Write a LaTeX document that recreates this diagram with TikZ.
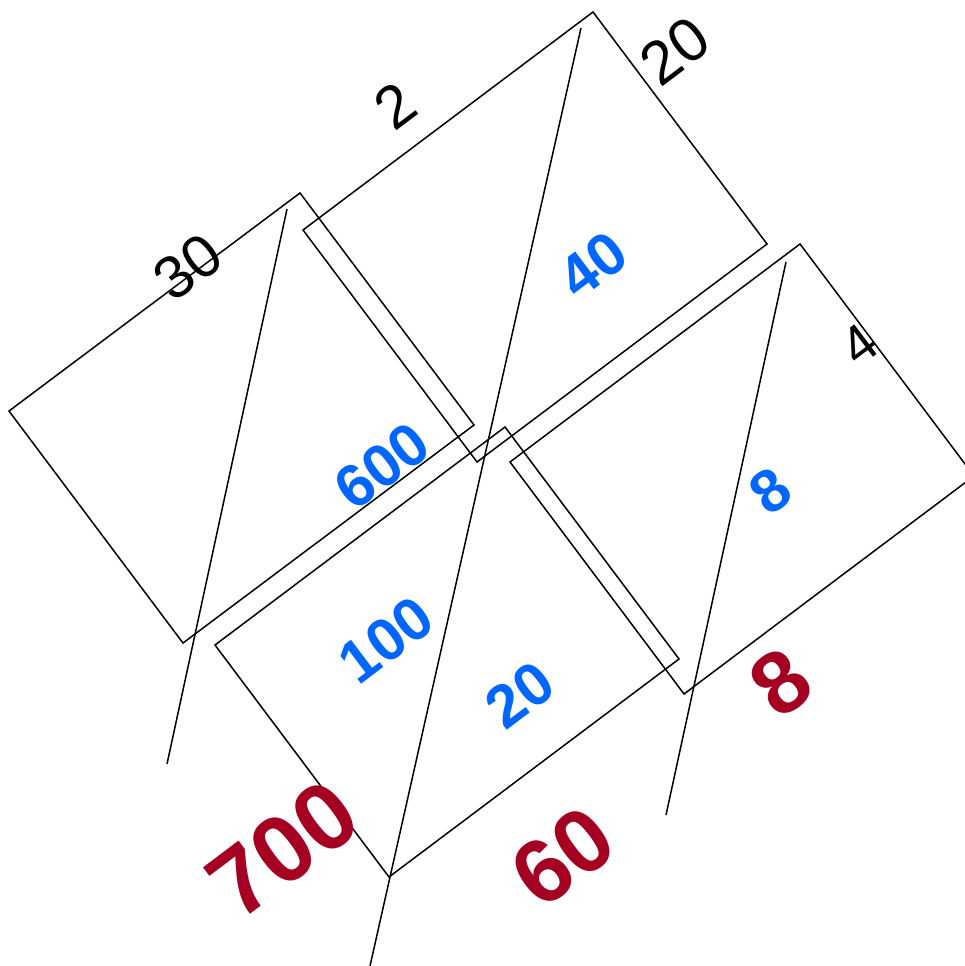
\documentclass[tikz,border=0pt]{standalone}
\usepackage{fontspec}
\setmainfont{Liberation Sans}
\definecolor{cellblue}{HTML}{0066FF}
\definecolor{sumred}{HTML}{A50021}
\begin{document}
\begin{tikzpicture}[x=1pt,y=-1pt,
  box/.style={draw=black,line width=1.5pt,line join=miter},
  diag/.style={draw=black,line width=1.5pt},
  factor/.style={text=black,rotate=37,inner sep=0pt},
  part/.style={text=cellblue,rotate=37,inner sep=0pt,font=\bfseries\fontsize{60}{60}\selectfont},
  total/.style={text=sumred,rotate=37,inner sep=0pt}]
\useasboundingbox (0,0) rectangle (965,966);
\clip (0,0) rectangle (965,966);
% rectangles
\draw[box] (9,411) -- (300,193) -- (474,425) -- (183,643) -- cycle;
\draw[box] (303,230) -- (593,12) -- (767,244) -- (477,462) -- cycle;
\draw[box] (215,645) -- (505,427) -- (679,659) -- (389,877) -- cycle;
\draw[box] (510,462) -- (800,244) -- (974,476) -- (684,694) -- cycle;
% diagonals
\coordinate (d1a) at (287,209); \coordinate (d1b) at (167,764);
\coordinate (d2a) at (581,28);  \coordinate (d2b) at (370,966);
\coordinate (d3a) at (786,262); \coordinate (d3b) at (666,815);
\draw[diag] (d1a) -- (d1b);
\draw[diag] (d2a) -- (d2b);
\draw[diag] (d3a) -- (d3b);
% factors
\node[factor,font=\fontsize{60}{60}\selectfont] (f30) at (188,267) {30};
\node[factor,font=\fontsize{60}{60}\selectfont] (f2) at (395,106) {2};
\node[factor,font=\fontsize{61}{61}\selectfont] (f20) at (675,51) {20};
\node[factor,font=\fontsize{54}{54}\selectfont] (f4) at (859,345) {4};
% partial products
\node[part] (p600) at (382,466) {600};
\node[part] (p40) at (593,265) {40};
\node[part] (p100) at (386,640) {100};
\node[part] (p20) at (520,695) {20};
\node[part] (p8) at (770,491) {8};
% sums
\node[total,font=\bfseries\fontsize{95}{95}\selectfont] (s700) at (283,849) {700};
\node[total,font=\bfseries\fontsize{90}{90}\selectfont] (s60) at (563,857) {60};
\node[total,font=\bfseries\fontsize{88}{88}\selectfont] (s8) at (781,683) {8};
\end{tikzpicture}
\end{document}
